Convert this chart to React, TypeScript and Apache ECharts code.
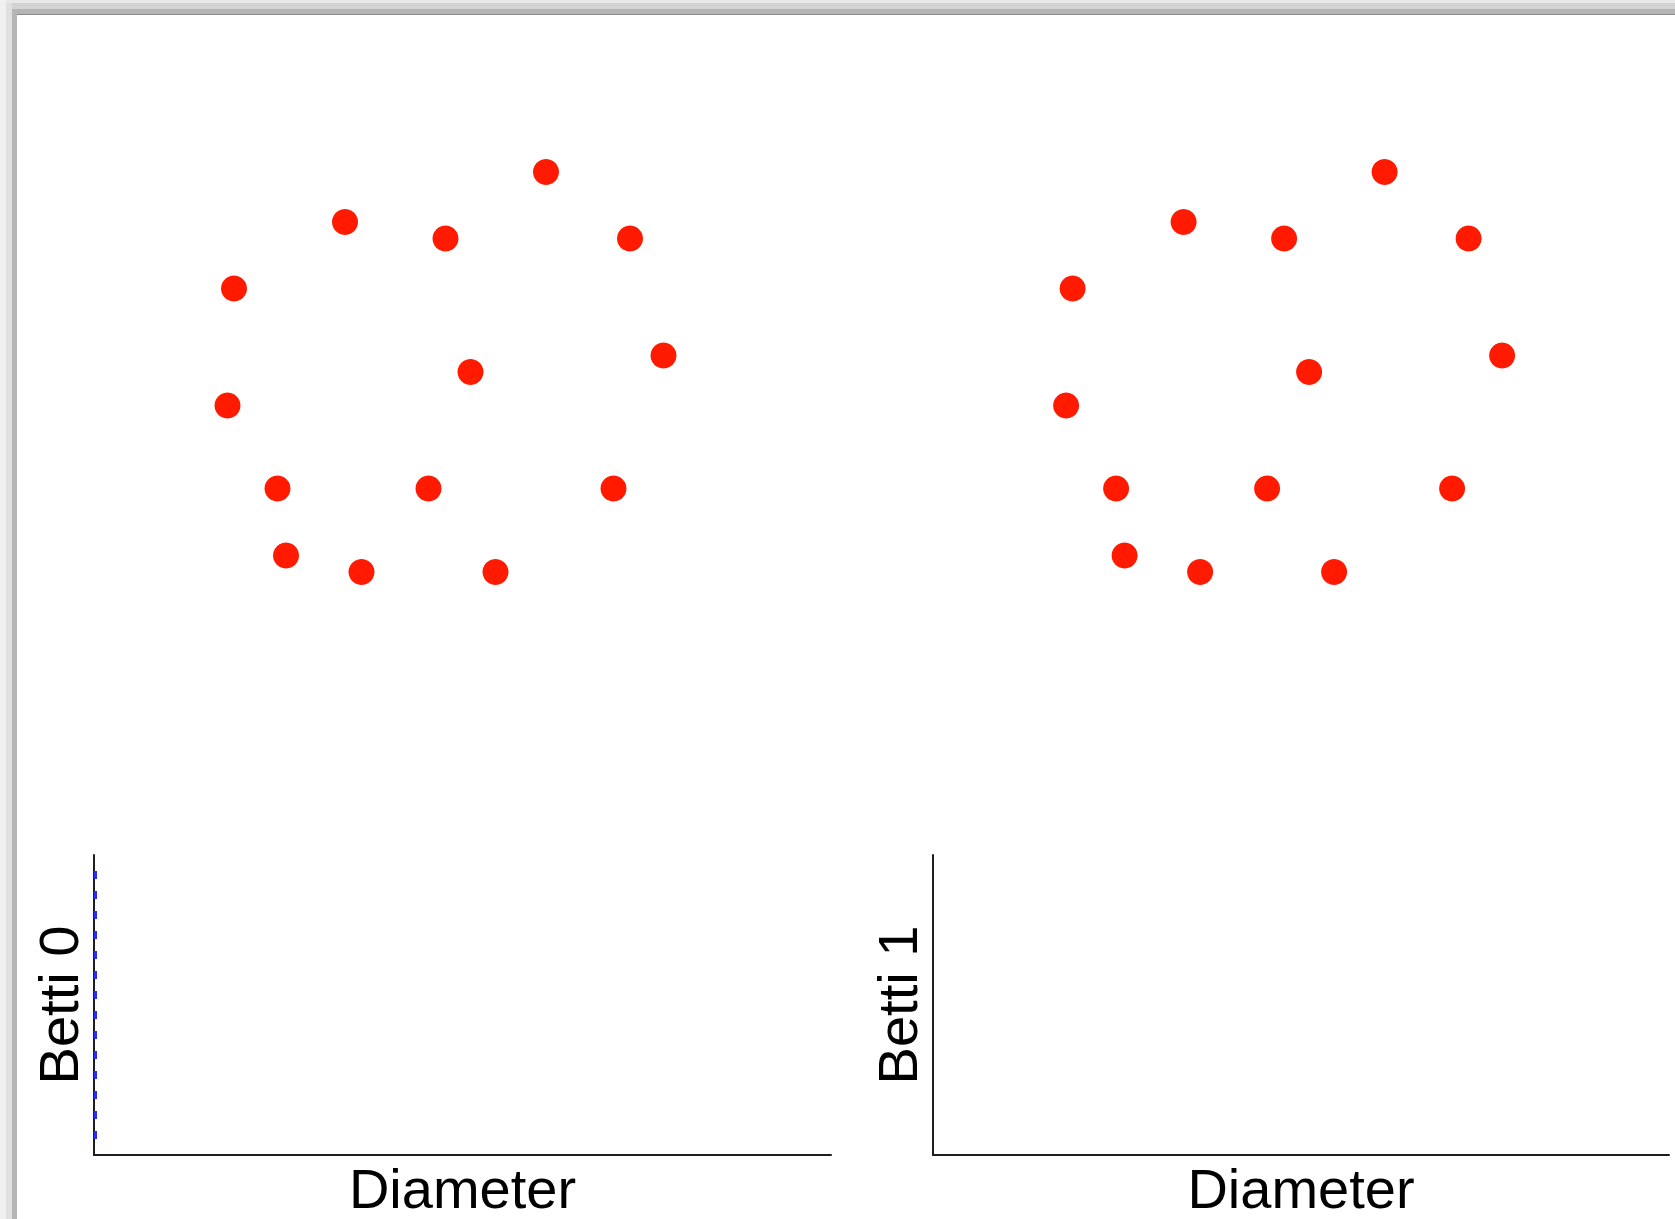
import React, { useEffect, useRef } from "react";
import * as echarts from "echarts";

// Point cloud (same sample drawn in both panels)
const pointX = [6.92, 2.9, 4.91, 8.6, 0.68, 9.27, 5.41, 0.55, 1.55, 4.57, 8.27, 1.72, 3.23, 5.91];
const pointY = [8.36, 7.36, 7.03, 7.03, 6.03, 4.69, 4.36, 3.69, 2.03, 2.03, 2.03, 0.69, 0.36, 0.36];

// Persistence barcodes at diameter 0: each point is its own component
const betti0Birth = [0, 0, 0, 0, 0, 0, 0, 0, 0, 0, 0, 0, 0, 0];
const betti1Birth: number[] = [];

const panelTitles = ["Betti 0", "Betti 1"];
const xAxisTitle = "Diameter";

const FONT = "'Liberation Sans', Arial, sans-serif";

export default function App() {
  const ref = useRef<HTMLDivElement>(null);

  useEffect(() => {
    document.body.style.margin = "0";
    const chart = echarts.init(ref.current!, null, { renderer: "svg" });
    const points = pointX.map((x, i) => [x, pointY[i]]);
    const bars0 = betti0Birth.map((b, i) => [b, i + 1]);
    const bars1 = betti1Birth.map((b, i) => [b, i + 1]);

    const hiddenAxis = { show: false };
    const barAxisLine = { show: true, lineStyle: { color: "#1e1e1e", width: 2 } };

    chart.setOption({
      animation: false,
      backgroundColor: "#ffffff",
      grid: [
        { left: 200, top: 140, width: 500, height: 450 },
        { left: 1038.6, top: 140, width: 500, height: 450 },
        { left: 94, top: 855, width: 737, height: 300 },
        { left: 933, top: 855, width: 736, height: 300 },
      ],
      xAxis: [
        { gridIndex: 0, type: "value", min: 0, max: 10, ...hiddenAxis },
        { gridIndex: 1, type: "value", min: 0, max: 10, ...hiddenAxis },
        ...[2, 3].map((g) => ({
          gridIndex: g,
          type: "value",
          min: 0,
          max: 10,
          axisLine: barAxisLine,
          axisTick: { show: false },
          axisLabel: { show: false },
          splitLine: { show: false },
          name: xAxisTitle,
          nameLocation: "middle",
          nameGap: 5,
          nameTextStyle: { fontFamily: FONT, fontSize: 56, color: "#000", verticalAlign: "top" },
        })),
      ],
      yAxis: [
        { gridIndex: 0, type: "value", min: 0, max: 9, ...hiddenAxis },
        { gridIndex: 1, type: "value", min: 0, max: 9, ...hiddenAxis },
        ...[2, 3].map((g, k) => ({
          gridIndex: g,
          type: "value",
          min: 0,
          max: 15,
          axisLine: barAxisLine,
          axisTick: { show: false },
          axisLabel: { show: false },
          splitLine: { show: false },
          name: panelTitles[k],
          nameLocation: "middle",
          nameGap: 8,
          nameTextStyle: { fontFamily: FONT, fontSize: 56, color: "#000" },
        })),
      ],
      series: [
        ...[0, 1].map((i) => ({
          type: "scatter",
          xAxisIndex: i,
          yAxisIndex: i,
          data: points,
          symbol: "circle",
          symbolSize: 26,
          itemStyle: { color: "#ff1a00", opacity: 1 },
          silent: true,
        })),
        {
          type: "scatter",
          xAxisIndex: 2,
          yAxisIndex: 2,
          data: bars0,
          symbol: "rect",
          symbolSize: [3, 8],
          symbolOffset: [1.5, 0],
          itemStyle: { color: "#2a2af5", opacity: 1 },
          silent: true,
          z: 5,
        },
        {
          type: "scatter",
          xAxisIndex: 3,
          yAxisIndex: 3,
          data: bars1,
          symbol: "rect",
          symbolSize: [3, 8],
          itemStyle: { color: "#2a2af5", opacity: 1 },
          silent: true,
        },
      ],
      graphic: [
        // soft drop shadow along the top and left edges of the sheet
        { type: "rect", shape: { x: 0, y: 0, width: 1675, height: 3 }, style: { fill: "#e8e8e8" }, silent: true },
        { type: "rect", shape: { x: 6, y: 3, width: 1669, height: 6 }, style: { fill: "#d3d3d3" }, silent: true },
        { type: "rect", shape: { x: 12, y: 9, width: 1663, height: 5 }, style: { fill: "#b5b5b5" }, silent: true },
        { type: "rect", shape: { x: 17, y: 14, width: 1658, height: 1 }, style: { fill: "#8c8c8c" }, silent: true },
        { type: "rect", shape: { x: 0, y: 0, width: 6, height: 1219 }, style: { fill: "#f0f0f0" }, silent: true },
        { type: "rect", shape: { x: 6, y: 3, width: 6, height: 1216 }, style: { fill: "#e0e0e0" }, silent: true },
        { type: "rect", shape: { x: 12, y: 9, width: 5, height: 1210 }, style: { fill: "#b6b6b6" }, silent: true },
      ],
    });
    return () => chart.dispose();
  }, []);

  return (
    <div
      ref={ref}
      style={{ position: "fixed", left: 0, top: 0, width: 1675, height: 1219 }}
    />
  );
}
